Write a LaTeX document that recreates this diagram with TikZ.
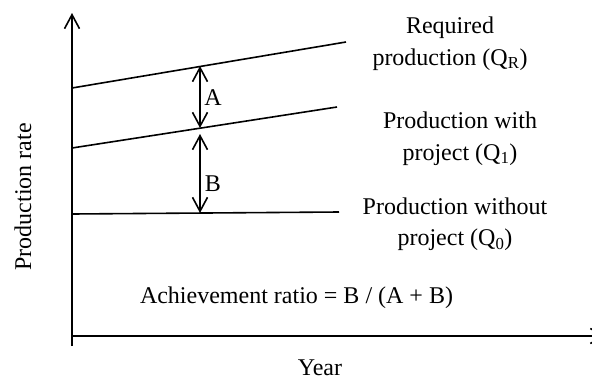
\documentclass[tikz,border=0pt]{standalone}
\usepackage{fontspec}
\setmainfont{Liberation Serif}
\usetikzlibrary{arrows.meta, positioning, calc}

\begin{document}
\begin{tikzpicture}[x=1pt,y=-1pt,line width=1.6pt,
>={Straight Barb[length=14pt,width=15pt,line width=1.6pt]},
lbl/.style={font=\fontsize{24}{31.5}\selectfont, align=center, inner sep=0pt},
prodline/.style={line width=1.6pt}]
\useasboundingbox (0,0) rectangle (592,381);

\coordinate (origin) at (72,336);
\coordinate (ytop) at (72,13);
\coordinate (ybot) at (72,346);
\coordinate (xend) at (606,336);
\draw[->] (ybot) -- (ytop);
\draw[->] (origin) -- (xend);

\coordinate (r0) at (72,88); \coordinate (r1) at (346,42);
\coordinate (w0) at (72,148); \coordinate (w1) at (337,107);
\coordinate (n0) at (72,214); \coordinate (n1) at (339,212);
\draw[prodline] (r0) -- (r1);
\draw[prodline] (w0) -- (w1);
\draw[prodline] (n0) -- (n1);

\coordinate (atop) at (200,66); \coordinate (abot) at (200,128);
\coordinate (btop) at (200,134); \coordinate (bbot) at (200,213);
\draw[<->] (atop) -- (abot);
\draw[<->] (btop) -- (bbot);

\node[lbl] (labA) at (213,98) {A};
\node[lbl] (labB) at (213,184) {B};
\node[lbl] (req) at (450,43.5) {Required\\production (Q\textsubscript{R})};
\node[lbl] (with) at (460,138.5) {Production with\\project (Q\textsubscript{1})};
\node[lbl] (without) at (455,224) {Production without\\project (Q\textsubscript{0})};
\node[lbl] (ratio) at (296.5,297.5) {Achievement ratio = B / (A + B)};
\node[lbl] (year) at (320,368) {Year};
\node[lbl, rotate=90] (rate) at (23,197) {Production rate};
\end{tikzpicture}
\end{document}
